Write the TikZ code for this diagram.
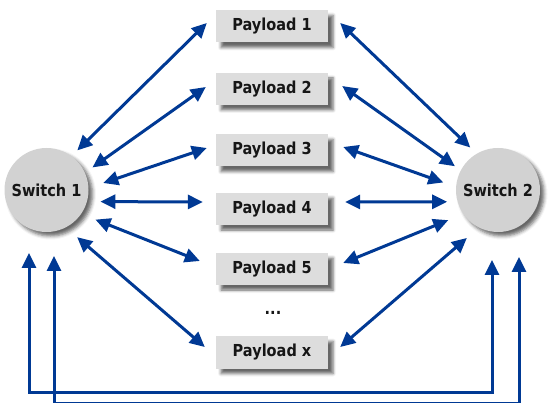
\documentclass[tikz,border=0pt]{standalone}
\usepackage{fontspec}
\setmainfont{DejaVu Sans}
\newfontfamily\lblfont{DejaVu Sans Bold}[FakeStretch=0.88]
\usetikzlibrary{arrows.meta,shadows.blur,calc}
\definecolor{linkblue}{RGB}{0,57,148}
\definecolor{switchgray}{RGB}{210,210,210}
\definecolor{boxgray}{RGB}{221,221,221}
\definecolor{textdark}{RGB}{22,22,22}
\begin{document}
\begin{tikzpicture}[x=1pt,y=-1pt,
  switchnode/.style={circle, fill=switchgray, minimum size=84pt, inner sep=0pt,
    text=textdark, font=\lblfont\fontsize{16.5}{18}\selectfont,
    blur shadow={shadow xshift=4pt, shadow yshift=-4pt, shadow blur radius=3.5pt, shadow opacity=60}},
  payloadbox/.style={rectangle, fill=boxgray, minimum width=112pt, minimum height=32pt, inner sep=0pt,
    text=textdark, font=\lblfont\fontsize{16.5}{18}\selectfont,
    blur shadow={shadow xshift=5pt, shadow yshift=-5pt, shadow blur radius=3pt, shadow opacity=60}},
  link/.style={draw=linkblue, line width=3pt,
    {Triangle[length=15pt,width=14pt]}-{Triangle[length=15pt,width=14pt]}},
  loopline/.style={draw=linkblue, line width=3pt,
    {Triangle[length=15pt,width=14pt]}-{Triangle[length=15pt,width=14pt]}}
]
\useasboundingbox (0,0) rectangle (549,403);

\node[switchnode] (s1) at (46.5,190) {Switch 1};
\node[switchnode] (s2) at (498,190) {Switch 2};

\node[payloadbox] (p1) at (272,26.5) {Payload 1};
\node[payloadbox] (p2) at (272,89) {Payload 2};
\node[payloadbox] (p3) at (272,150.5) {Payload 3};
\node[payloadbox] (p4) at (272,209) {Payload 4};
\node[payloadbox] (p5) at (272,269) {Payload 5};
\node[payloadbox] (px) at (272,352.5) {Payload x};
\node[text=textdark, font=\lblfont\fontsize{16.5}{18}\selectfont] (dots) at (273,313) {...};

% Switch 1 to payloads
\draw[link] ([shift={(52.7:8pt)}]s1.52.7) -- ([xshift=-9pt,yshift=3.5pt]p1.west);
\draw[link] ([shift={(26.8:9pt)}]s1.26.8) -- ([xshift=-10pt,yshift=2pt]p2.west);
\draw[link] ([shift={(7:15pt)}]s1.7) -- ([xshift=-9pt,yshift=2.5pt]p3.west);
\draw[link] ([shift={(-12.6:13pt)}]s1.-12.6) -- ([xshift=-13pt,yshift=7pt]p4.west);
\draw[link] ([shift={(-31.7:15pt)}]s1.-31.7) -- ([xshift=-16pt,yshift=8pt]p5.west);
\draw[link] ([shift={(-57:14pt)}]s1.-57) -- ([xshift=-11pt,yshift=5.5pt]px.west);

% Payloads to switch 2
\draw[link] ([xshift=12pt,yshift=3.5pt]p1.east) -- ([shift={(123.7:8.5pt)}]s2.123.7);
\draw[link] ([xshift=14pt,yshift=3pt]p2.east) -- ([shift={(151.9:7pt)}]s2.151.9);
\draw[link] ([xshift=15pt,yshift=3.5pt]p3.east) -- ([shift={(172.7:13pt)}]s2.172.7);
\draw[link] ([xshift=17pt,yshift=7pt]p4.east) -- ([shift={(193.2:10pt)}]s2.193.2);
\draw[link] ([xshift=15pt,yshift=6pt]p5.east) -- ([shift={(211.8:16pt)}]s2.211.8);
\draw[link] ([xshift=12pt,yshift=5.5pt]px.east) -- ([shift={(237.1:15pt)}]s2.237.1);

% Direct links between switches
\coordinate (a1) at (29,253);
\coordinate (a2) at (492,260);
\coordinate (b1) at (54,256);
\coordinate (b2) at (519,257);
\draw[loopline] (a1) -- (29,392) -- (492,392) -- (a2);
\draw[loopline] (b1) -- (54,403.5) -- (519,403.5) -- (b2);
\end{tikzpicture}
\end{document}
